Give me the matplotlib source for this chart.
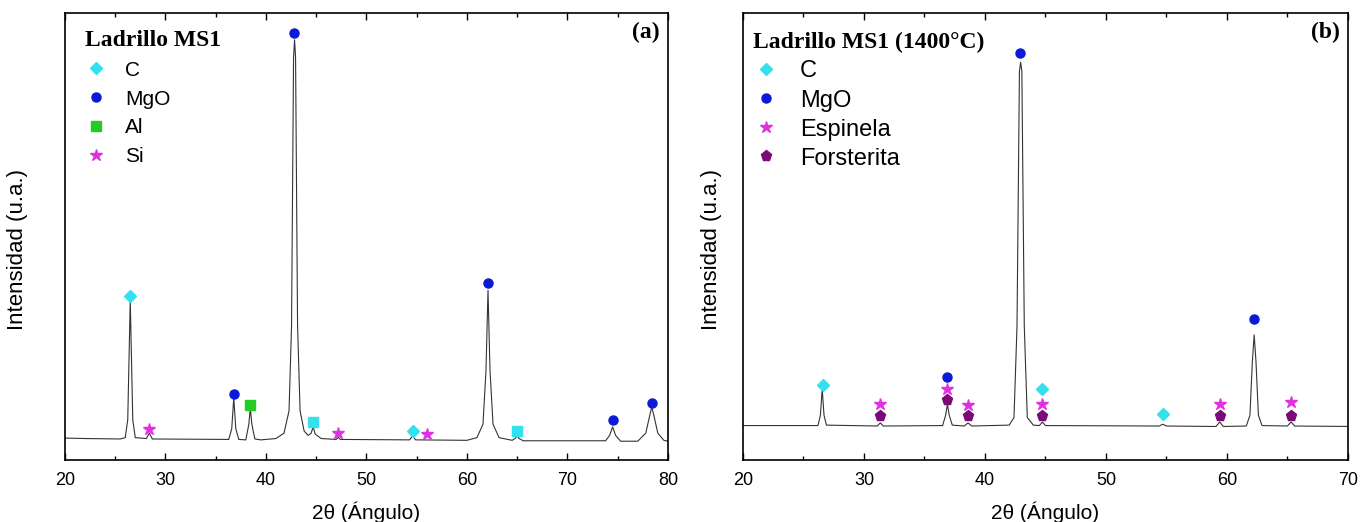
import matplotlib
matplotlib.use("Agg")
import matplotlib.pyplot as plt
from matplotlib.ticker import MultipleLocator

# ---- data (intensity in arbitrary units, 0-1000) ----
# panel (a): Ladrillo MS1
tt_a = [20.0, 22.0, 25.5, 26.0, 26.25, 26.4, 26.5, 26.6, 26.75, 27.0,
        28.1, 28.4, 28.7, 36.3, 36.6, 36.8, 37.0, 37.3, 38.0, 38.3,
        38.45, 38.6, 38.9, 39.5, 41.0, 41.8, 42.3, 42.55, 42.75, 42.85,
        42.95, 43.15, 43.4, 43.8, 44.2, 44.5, 44.7, 44.9, 45.5, 47.0,
        47.2, 47.4, 54.3, 54.6, 54.9, 60.0, 61.0, 61.6, 61.9, 62.1,
        62.3, 62.6, 63.2, 64.5, 64.8, 65.0, 65.2, 65.6, 73.8, 74.2,
        74.5, 74.8, 75.3, 77.0, 77.8, 78.2, 78.4, 78.6, 79.0, 79.6, 80.0]
int_a = [49, 48, 47, 50, 90, 250, 358, 250, 90, 50,
         48, 60, 47, 46, 70, 139, 70, 46, 45, 80,
         116, 80, 47, 45, 48, 60, 110, 300, 900, 940,
         900, 300, 110, 65, 55, 60, 74, 58, 48, 46,
         51, 46, 45, 54, 45, 44, 50, 80, 200, 380,
         200, 80, 50, 44, 48, 54, 48, 43, 43, 55,
         74, 55, 42, 42, 60, 100, 119, 100, 60, 44, 42]

c_a_x, c_a_y = [26.5, 54.6], [367, 65]
mgo_a_x, mgo_a_y = [36.8, 42.8, 62.1, 74.5, 78.4], [148, 955, 396, 89, 128]
al_a_x, al_a_y = [38.4], [123]
si_a_x, si_a_y = [28.4, 47.2, 56.0], [69, 60, 58]
csq_a_x, csq_a_y = [44.7, 65.0], [85, 65]

# panel (b): Ladrillo MS1 (1400°C)
tt_b = [20.0, 26.2, 26.4, 26.55, 26.7, 26.9, 31.1, 31.35, 31.6, 36.5,
        36.75, 36.9, 37.05, 37.3, 38.3, 38.6, 38.9, 42.0, 42.4, 42.65,
        42.85, 42.95, 43.05, 43.25, 43.5, 44.0, 44.5, 44.75, 45.0, 54.4,
        54.7, 55.0, 59.1, 59.4, 59.7, 61.6, 61.9, 62.1, 62.25, 62.4,
        62.6, 62.9, 65.0, 65.3, 65.6, 70.0]
int_b = [77, 77, 100, 159, 100, 78, 76, 83, 76, 77,
         100, 125, 100, 78, 76, 83, 76, 78, 95, 300,
         870, 890, 870, 300, 95, 78, 77, 85, 77, 76,
         80, 76, 75, 85, 75, 76, 100, 220, 280, 220,
         100, 77, 76, 85, 76, 75]

c_b_x, c_b_y = [26.6, 44.75, 54.7], [168, 159, 103]
mgo_b_x, mgo_b_y = [36.9, 42.9, 62.2], [186, 911, 315]
esp_b_x = [31.35, 36.9, 38.6, 44.75, 59.4, 65.3]
esp_b_y = [125, 159, 123, 125, 125, 130]
for_b_x = [31.35, 36.9, 38.6, 44.75, 59.4, 65.3]
for_b_y = [98, 134, 98, 98, 98, 98]

CYAN = "#33e0ee"
BLUE = "#0a1ad6"
GREEN = "#22cc22"
MAGENTA = "#e030e0"
PURPLE = "#7a0a7a"

plt.rcParams["font.family"] = ["Liberation Sans", "DejaVu Sans"]

fig = plt.figure(figsize=(13.7, 5.22), dpi=100)
ax1 = fig.add_axes([0.0474, 0.1188, 0.4401, 0.8563])
ax2 = fig.add_axes([0.5423, 0.1188, 0.4416, 0.8563])

ax1.plot(tt_a, int_a, color="#333333", lw=0.8)
ax1.plot(c_a_x, c_a_y, "D", color=CYAN, ms=6, ls="none", label="C")
ax1.plot(mgo_a_x, mgo_a_y, "o", color=BLUE, ms=6.5, ls="none", label="MgO")
ax1.plot(al_a_x, al_a_y, "s", color=GREEN, ms=6.5, ls="none", label="Al")
ax1.plot(si_a_x, si_a_y, "*", color=MAGENTA, ms=9, ls="none", label="Si")
ax1.plot(csq_a_x, csq_a_y, "s", color=CYAN, ms=6.5, ls="none")

ax2.plot(tt_b, int_b, color="#333333", lw=0.8)
ax2.plot(c_b_x, c_b_y, "D", color=CYAN, ms=6, ls="none", label="C")
ax2.plot(mgo_b_x, mgo_b_y, "o", color=BLUE, ms=6.5, ls="none", label="MgO")
ax2.plot(esp_b_x, esp_b_y, "*", color=MAGENTA, ms=9, ls="none", label="Espinela")
ax2.plot(for_b_x, for_b_y, "p", color=PURPLE, ms=8, ls="none", label="Forsterita")

ax1.set_xlim(20, 80)
ax2.set_xlim(20, 70)

# per panel: tag, legend title, legend font size, legend anchor, handle length,
# label spacing, y-label x position
setup = [(ax1, "(a)", "Ladrillo MS1", 15, (0.033, 0.962), 1.06, 0.47, -0.061),
         (ax2, "(b)", "Ladrillo MS1 (1400°C)", 17, (0.0165, 0.957), 1.1, 0.3, -0.035)]

for ax, tag, title, fs, anchor, hl, ls, ylx in setup:
    ax.set_ylim(0, 1000)
    ax.set_yticks([])
    ax.xaxis.set_major_locator(MultipleLocator(10))
    ax.xaxis.set_minor_locator(MultipleLocator(5))
    ax.tick_params(axis="x", which="major", direction="in", top=True,
                   length=5, width=1, labelsize=13, pad=9)
    ax.tick_params(axis="x", which="minor", direction="in", top=True,
                   length=3, width=1)
    for sp in ax.spines.values():
        sp.set_linewidth(1.2)
    ax.set_xlabel("2θ (Ángulo)", fontsize=15, labelpad=9)
    ax.set_ylabel("Intensidad (u.a.)", fontsize=16)
    ax.yaxis.set_label_coords(ylx, 0.47)
    ax.text(0.987, 0.957, tag, transform=ax.transAxes, ha="right", va="center",
            fontsize=17, fontweight="bold", family="Liberation Serif")
    ax.legend(loc="upper left", bbox_to_anchor=anchor, frameon=False,
              fontsize=fs, title=title, alignment="left",
              title_fontproperties={"family": "Liberation Serif",
                                    "weight": "bold", "size": 17},
              handletextpad=0.88, labelspacing=ls, borderpad=0,
              borderaxespad=0, handlelength=hl)

fig.savefig("out.png", dpi=100)
